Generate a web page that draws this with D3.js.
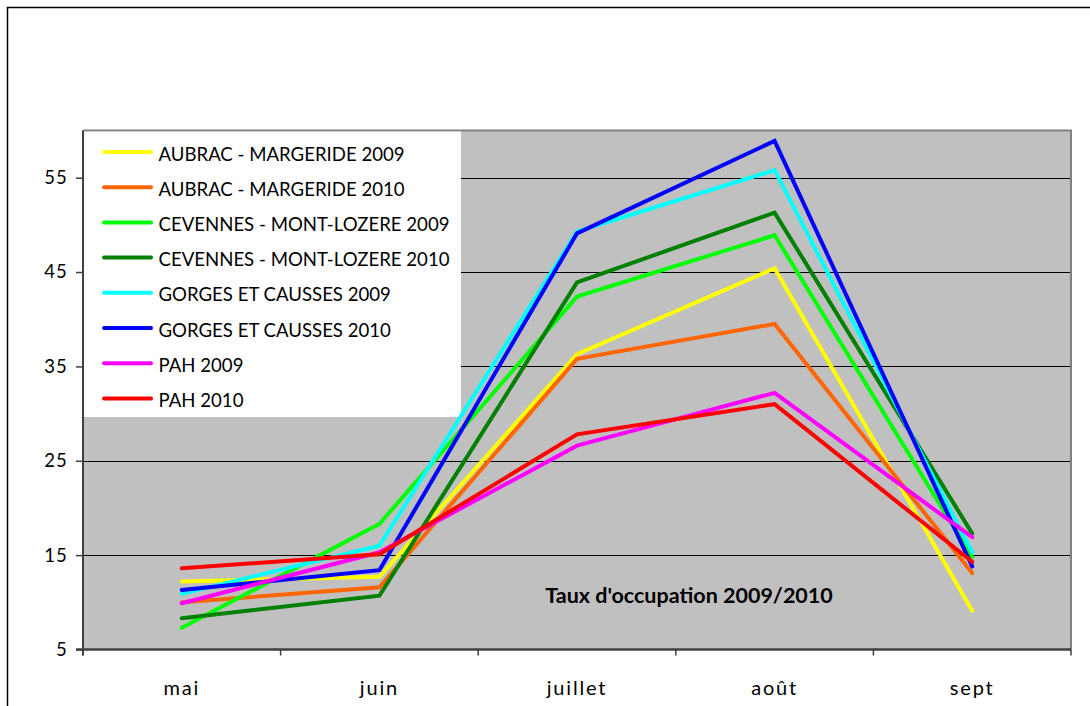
<!DOCTYPE html>
<html>
<head>
<meta charset="utf-8">
<script src="https://cdn.jsdelivr.net/npm/d3@7/dist/d3.min.js"></script>
<style>
  html, body { margin: 0; padding: 0; background: #ffffff; }
  svg { display: block; }
</style>
</head>
<body>
<svg id="chart" width="1090" height="706"></svg>
<script>
// ---- data ----
const months = ["mai", "juin", "juillet", "août", "sept"];
const yTicks = [5, 15, 25, 35, 45, 55];
const seriesNames = [
  "AUBRAC - MARGERIDE 2009",
  "AUBRAC - MARGERIDE 2010",
  "CEVENNES - MONT-LOZERE 2009",
  "CEVENNES - MONT-LOZERE 2010",
  "GORGES ET CAUSSES 2009",
  "GORGES ET CAUSSES 2010",
  "PAH 2009",
  "PAH 2010"
];
const aubrac2009   = [12.2, 12.7, 36.3, 45.4, 9.1];
const aubrac2010   = [10.0, 11.6, 35.8, 39.5, 13.1];
const cevennes2009 = [7.3, 18.3, 42.4, 48.9, 14.8];
const cevennes2010 = [8.3, 10.7, 43.9, 51.3, 17.3];
const gorges2009   = [10.9, 16.0, 49.3, 55.8, 15.3];
const gorges2010   = [11.3, 13.4, 49.1, 58.9, 13.8];
const pah2009      = [9.9, 15.3, 26.6, 32.2, 16.9];
const pah2010      = [13.6, 15.1, 27.8, 31.0, 14.3];
const seriesColors = ["#FFFF00", "#FF6600", "#00FF00", "#008000", "#00FFFF", "#0000FF", "#FF00FF", "#FF0000"];
const chartTitle = "Taux d'occupation 2009/2010";

const seriesValues = [aubrac2009, aubrac2010, cevennes2009, cevennes2010, gorges2009, gorges2010, pah2009, pah2010];
const series = seriesNames.map((name, i) => ({ name, color: seriesColors[i], values: seriesValues[i] }));

// ---- layout ----
const svg = d3.select("#chart");
const plot = { left: 83, right: 1071, top: 130.5, bottom: 649.5 };
const FONT = "Lato, 'Open Sans', sans-serif";

// outer chart border
svg.append("rect")
  .attr("x", 7.5).attr("y", 7.5)
  .attr("width", 1100).attr("height", 720)
  .attr("fill", "#ffffff").attr("stroke", "#000000").attr("stroke-width", 1.5);

const x = d3.scaleBand().domain(months).range([plot.left, plot.right]).padding(0);
const y = d3.scaleLinear().domain([5, 60]).range([plot.bottom, plot.top]);

// plot background
svg.append("rect")
  .attr("x", plot.left).attr("y", plot.top)
  .attr("width", plot.right - plot.left).attr("height", plot.bottom - plot.top)
  .attr("fill", "#C0C0C0");

// gridlines
svg.append("g").selectAll("line")
  .data(yTicks.filter(t => t > 5))
  .join("line")
  .attr("x1", plot.left).attr("x2", plot.right)
  .attr("y1", d => Math.round(y(d)) + 0.5).attr("y2", d => Math.round(y(d)) + 0.5)
  .attr("stroke", "#000000").attr("stroke-width", 1.2);

// plot frame top and right (gray)
svg.append("line")
  .attr("x1", plot.left).attr("x2", plot.right + 1)
  .attr("y1", plot.top).attr("y2", plot.top)
  .attr("stroke", "#808080").attr("stroke-width", 2);
svg.append("line")
  .attr("x1", plot.right).attr("x2", plot.right)
  .attr("y1", plot.top).attr("y2", plot.bottom)
  .attr("stroke", "#808080").attr("stroke-width", 2);

// legend box
const legend = svg.append("g");
legend.append("rect")
  .attr("x", plot.left + 1).attr("y", plot.top + 1)
  .attr("width", 461 - plot.left - 1).attr("height", 417 - plot.top - 1)
  .attr("fill", "#ffffff");

// lines
const line = d3.line()
  .x((d, i) => x(months[i]) + x.bandwidth() / 2)
  .y(d => y(d));

svg.append("g").selectAll("path")
  .data(series)
  .join("path")
  .attr("d", d => line(d.values))
  .attr("fill", "none")
  .attr("stroke", d => d.color)
  .attr("stroke-width", 4)
  .attr("stroke-linejoin", "miter")
  .attr("stroke-linecap", "round");

// legend entries
const rowY0 = 152, rowStep = 35.2;
const items = legend.selectAll("g.item")
  .data(series)
  .join("g")
  .attr("class", "item")
  .attr("transform", (d, i) => `translate(0, ${rowY0 + i * rowStep})`);
items.append("line")
  .attr("x1", 104).attr("x2", 151)
  .attr("y1", 0).attr("y2", 0)
  .attr("stroke", d => d.color)
  .attr("stroke-width", 4)
  .attr("stroke-linecap", "round");
items.append("text")
  .attr("x", 158.5).attr("y", 8.5)
  .attr("font-family", FONT)
  .attr("font-size", 18.6)
  .attr("fill", "#000000")
  .text(d => d.name);

// y axis
const yAxis = svg.append("g")
  .attr("transform", `translate(${plot.left},0)`)
  .call(d3.axisLeft(y).tickValues(yTicks).tickSize(7).tickPadding(8).tickFormat(d3.format("d")));
yAxis.select(".domain").attr("stroke", "#404040").attr("stroke-width", 2)
  .attr("d", `M0,${plot.top}V${plot.bottom + 6}`);
yAxis.selectAll(".tick line").attr("stroke", "#404040").attr("stroke-width", 1.5);
yAxis.selectAll(".tick text")
  .attr("font-family", FONT).attr("font-size", 18.5)
  .attr("letter-spacing", 1.2)
  .attr("fill", "#000000");

// x axis (ticks between categories)
const xAxis = svg.append("g")
  .attr("transform", `translate(0,${plot.bottom})`);
xAxis.append("line")
  .attr("x1", plot.left - 7).attr("x2", plot.right)
  .attr("y1", 0).attr("y2", 0)
  .attr("stroke", "#404040").attr("stroke-width", 2.5);
const boundaries = months.map(m => x(m)).concat([x(months[months.length - 1]) + x.bandwidth()]);
xAxis.selectAll("line.tk")
  .data(boundaries)
  .join("line")
  .attr("class", "tk")
  .attr("x1", d => d).attr("x2", d => d)
  .attr("y1", 0).attr("y2", 6)
  .attr("stroke", "#404040").attr("stroke-width", 1.5);
xAxis.selectAll("text")
  .data(months)
  .join("text")
  .attr("x", d => x(d) + x.bandwidth() / 2)
  .attr("y", 45.5)
  .attr("text-anchor", "middle")
  .attr("font-family", FONT)
  .attr("font-size", 20)
  .attr("letter-spacing", 1.8)
  .attr("fill", "#000000")
  .text(d => d);

// title inside plot
svg.append("text")
  .attr("x", 689)
  .attr("y", 602.5)
  .attr("text-anchor", "middle")
  .attr("font-family", FONT)
  .attr("font-weight", "bold")
  .attr("font-size", 21.5)
  .attr("fill", "#000000")
  .text(chartTitle);
</script>
</body>
</html>
